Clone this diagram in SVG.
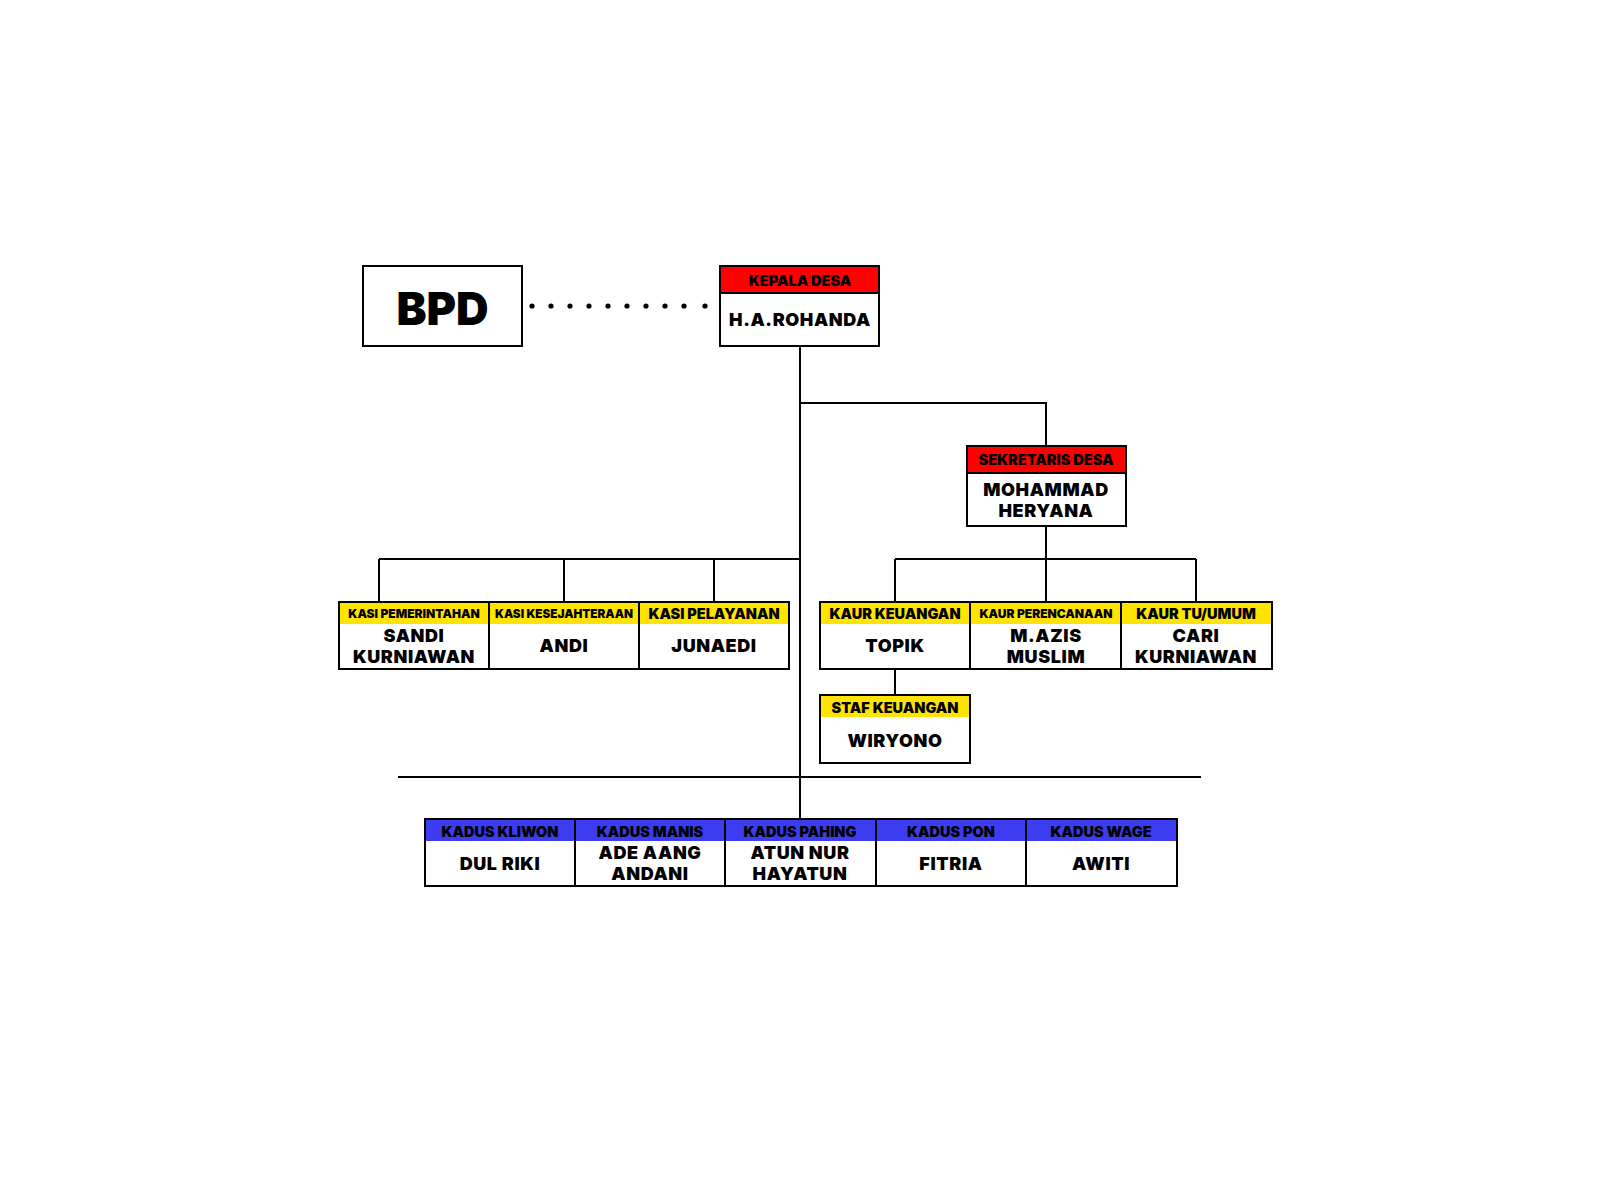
<svg xmlns="http://www.w3.org/2000/svg" width="1599" height="1200" viewBox="0 0 1599 1200">
<style>
.box{fill:#fff;stroke:#000;stroke-width:2}
.red{fill:#ff0000}
.yel{fill:#ffe400}
.blu{fill:#3c3cf0}
.hd{font-family:Inter,"DejaVu Sans",sans-serif;font-weight:900;fill:#000;text-anchor:middle;dominant-baseline:central;font-size:14.5px}
.sm{font-size:12px}
.nm{font-family:Inter,"DejaVu Sans",sans-serif;font-weight:900;fill:#000;text-anchor:middle;dominant-baseline:central;font-size:18px;letter-spacing:0.6px}
.ln{fill:none;stroke:#000;stroke-width:2}
</style>
<rect width="1599" height="1200" fill="#fff"/>
<g id="connectors">
<g fill="#000"><circle cx="532" cy="306" r="2.6"/><circle cx="551" cy="306" r="2.6"/><circle cx="570" cy="306" r="2.6"/><circle cx="589" cy="306" r="2.6"/><circle cx="608" cy="306" r="2.6"/><circle cx="627" cy="306" r="2.6"/><circle cx="646" cy="306" r="2.6"/><circle cx="665" cy="306" r="2.6"/><circle cx="684" cy="306" r="2.6"/><circle cx="705" cy="306" r="2.6"/></g>
<path class="ln" d="M800 346V819M800 403H1046V446M1046 526V602M895 559H1196M895 559V602M1196 559V602M379 559H800M379 559V602M564 559V602M714 559V602M895 669V695M398 777H1201"/>
</g>
<g id="bpd"><rect class="box" x="363" y="266" width="159" height="80"/><text class="hd" x="442.5" y="308" style="font-size:45px">BPD</text></g>
<g id="kepala"><rect class="box" x="720" y="266" width="159" height="80"/><rect class="red" x="721" y="267" width="157" height="26"/><line class="ln" x1="720" y1="293" x2="879" y2="293"/><text class="hd" x="800" y="280.5">KEPALA DESA</text><text class="nm" x="800" y="319">H.A.ROHANDA</text></g>
<g id="sekretaris"><rect class="box" x="967" y="446" width="159" height="80"/><rect class="red" x="968" y="447" width="157" height="26"/><line class="ln" x1="967" y1="473" x2="1126" y2="473"/><text class="hd" x="1046" y="459">SEKRETARIS DESA</text><text class="nm" x="1046" y="489.5">MOHAMMAD</text><text class="nm" x="1046" y="510">HERYANA</text></g>
<g id="kasi-pemerintahan"><rect class="box" x="339" y="602" width="150" height="67"/><rect class="yel" x="340" y="603" width="148" height="21"/><text class="hd sm" x="414" y="613.5">KASI PEMERINTAHAN</text><text class="nm" x="414" y="635.5">SANDI</text><text class="nm" x="414" y="656">KURNIAWAN</text></g>
<g id="kasi-kesejahteraan"><rect class="box" x="489" y="602" width="150" height="67"/><rect class="yel" x="490" y="603" width="148" height="21"/><text class="hd sm" x="564" y="613.5" textLength="138" lengthAdjust="spacingAndGlyphs">KASI KESEJAHTERAAN</text><text class="nm" x="564" y="645.5">ANDI</text></g>
<g id="kasi-pelayanan"><rect class="box" x="639" y="602" width="150" height="67"/><rect class="yel" x="640" y="603" width="148" height="21"/><text class="hd" x="714" y="613.5">KASI PELAYANAN</text><text class="nm" x="714" y="645.5">JUNAEDI</text></g>
<g id="kaur-keuangan"><rect class="box" x="820" y="602" width="150" height="67"/><rect class="yel" x="821" y="603" width="148" height="21"/><text class="hd" x="895" y="613.5">KAUR KEUANGAN</text><text class="nm" x="895" y="645.5">TOPIK</text></g>
<g id="kaur-perencanaan"><rect class="box" x="970" y="602" width="151" height="67"/><rect class="yel" x="971" y="603" width="149" height="21"/><text class="hd sm" x="1046" y="613.5">KAUR PERENCANAAN</text><text class="nm" x="1046" y="635.5">M.AZIS</text><text class="nm" x="1046" y="656">MUSLIM</text></g>
<g id="kaur-tu-umum"><rect class="box" x="1121" y="602" width="151" height="67"/><rect class="yel" x="1122" y="603" width="149" height="21"/><text class="hd" x="1196" y="613.5">KAUR TU/UMUM</text><text class="nm" x="1196" y="635.5">CARI</text><text class="nm" x="1196" y="656">KURNIAWAN</text></g>
<g id="staf-keuangan"><rect class="box" x="820" y="695" width="150" height="68"/><rect class="yel" x="821" y="696" width="148" height="21"/><text class="hd" x="895" y="707">STAF KEUANGAN</text><text class="nm" x="895" y="740">WIRYONO</text></g>
<g id="kadus-kliwon"><rect class="box" x="425" y="819" width="150" height="67"/><rect class="blu" x="426" y="820" width="148" height="21"/><text class="hd" x="500" y="831">KADUS KLIWON</text><text class="nm" x="500" y="863">DUL RIKI</text></g>
<g id="kadus-manis"><rect class="box" x="575" y="819" width="150" height="67"/><rect class="blu" x="576" y="820" width="148" height="21"/><text class="hd" x="650" y="831">KADUS MANIS</text><text class="nm" x="650" y="852.5">ADE AANG</text><text class="nm" x="650" y="873.5">ANDANI</text></g>
<g id="kadus-pahing"><rect class="box" x="725" y="819" width="151" height="67"/><rect class="blu" x="726" y="820" width="149" height="21"/><text class="hd" x="800" y="831">KADUS PAHING</text><text class="nm" x="800" y="852.5">ATUN NUR</text><text class="nm" x="800" y="873.5">HAYATUN</text></g>
<g id="kadus-pon"><rect class="box" x="876" y="819" width="150" height="67"/><rect class="blu" x="877" y="820" width="148" height="21"/><text class="hd" x="951" y="831">KADUS PON</text><text class="nm" x="951" y="863">FITRIA</text></g>
<g id="kadus-wage"><rect class="box" x="1026" y="819" width="151" height="67"/><rect class="blu" x="1027" y="820" width="149" height="21"/><text class="hd" x="1101" y="831">KADUS WAGE</text><text class="nm" x="1101" y="863">AWITI</text></g>
</svg>
